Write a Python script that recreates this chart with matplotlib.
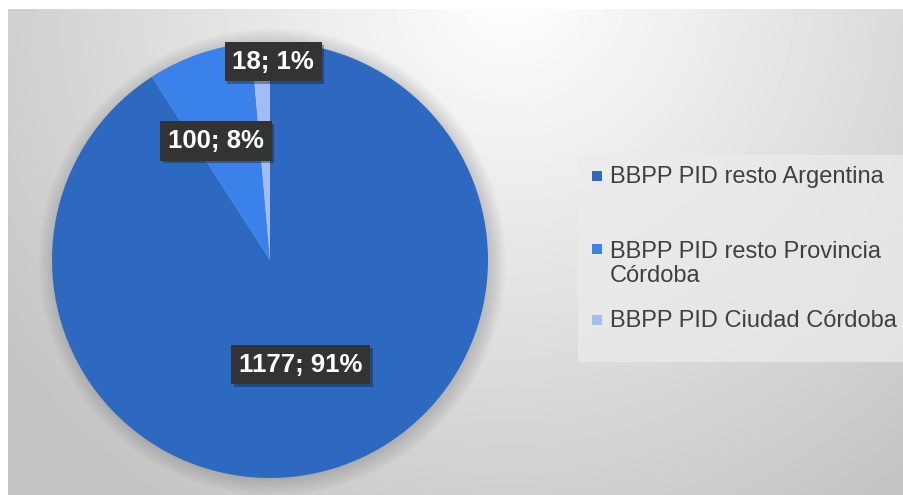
import numpy as np
import matplotlib
matplotlib.use('Agg')
import matplotlib.pyplot as plt
from matplotlib.patches import Rectangle, Circle
import matplotlib.patheffects as pe

plt.rcParams['font.family'] = ['Liberation Sans', 'DejaVu Sans']

# data
categories = ['BBPP PID resto Argentina', 'BBPP PID resto Provincia\nCórdoba', 'BBPP PID Ciudad Córdoba']
counts = [1177, 100, 18]
colors = ['#2e69c1', '#3a82ea', '#a3bdf4']

W, H = 904, 495
fig = plt.figure(figsize=(W / 100, H / 100), dpi=100)

def fx(px):
    return px / W

def fy(py):
    return 1 - py / H

# radial grey background, white near the top
bg = fig.add_axes([fx(8), 0, 1 - fx(8), (H - 9) / H])
yy, xx = np.mgrid[9:H, 8:W]
d = np.hypot(xx - 510, yy + 10)
shade = 1 - 0.23 * np.clip(d / 620, 0, 1)
bg.imshow(shade, cmap='gray', vmin=0, vmax=1, aspect='auto')
bg.axis('off')

# pie
ax = fig.add_axes([fx(52), fy(478), 436 / W, 436 / H])
for k in range(8):
    ax.add_patch(Circle((0.01, -0.01), 1 + 0.01 * k, color='black', alpha=0.018,
                        zorder=0, lw=0, clip_on=False))
wedges, _ = ax.pie(counts, colors=colors, startangle=90, counterclock=False,
                   radius=1, wedgeprops=dict(linewidth=0))
ax.set_xlim(-1, 1)
ax.set_ylim(-1, 1)
ax.axis('off')

total = sum(counts)
label_r = [0.5, 0.6, 0.91]
label_nudge = [0, 5.5, -3.4]
for w, n, r, nd in zip(wedges, counts, label_r, label_nudge):
    ang = np.deg2rad((w.theta1 + w.theta2) / 2 + nd)
    pct = round(100 * n / total)
    t = ax.text(r * np.cos(ang), r * np.sin(ang), f'{n}; {pct}%', ha='center', va='center',
                color='white', fontsize=18.5, fontweight='bold', zorder=5,
                bbox=dict(boxstyle='square,pad=0.3', facecolor='#333333', edgecolor='none'))
    t.get_bbox_patch().set_path_effects([pe.SimplePatchShadow(offset=(2, -2), alpha=0.35), pe.Normal()])

# legend
fig.add_artist(Rectangle((fx(578), fy(362)), 1 - fx(578), 207 / H, transform=fig.transFigure,
                         facecolor='#ececec', alpha=0.7, edgecolor='none'))
first_baselines = [183, 256, 327]
line_step = 26
for name, c, b in zip(categories, colors, first_baselines):
    nlines = name.count('\n') + 1
    fig.add_artist(Rectangle((fx(592), fy(b - 2)), 10 / W, 10 / H, transform=fig.transFigure,
                             facecolor=c, edgecolor='none'))
    # matplotlib puts the baseline of the last line at y
    fig.text(fx(610), fy(b + (nlines - 1) * line_step), name, ha='left', va='baseline',
             fontsize=17, color='#404040', linespacing=1.12)

fig.savefig('out.png', dpi=100)
